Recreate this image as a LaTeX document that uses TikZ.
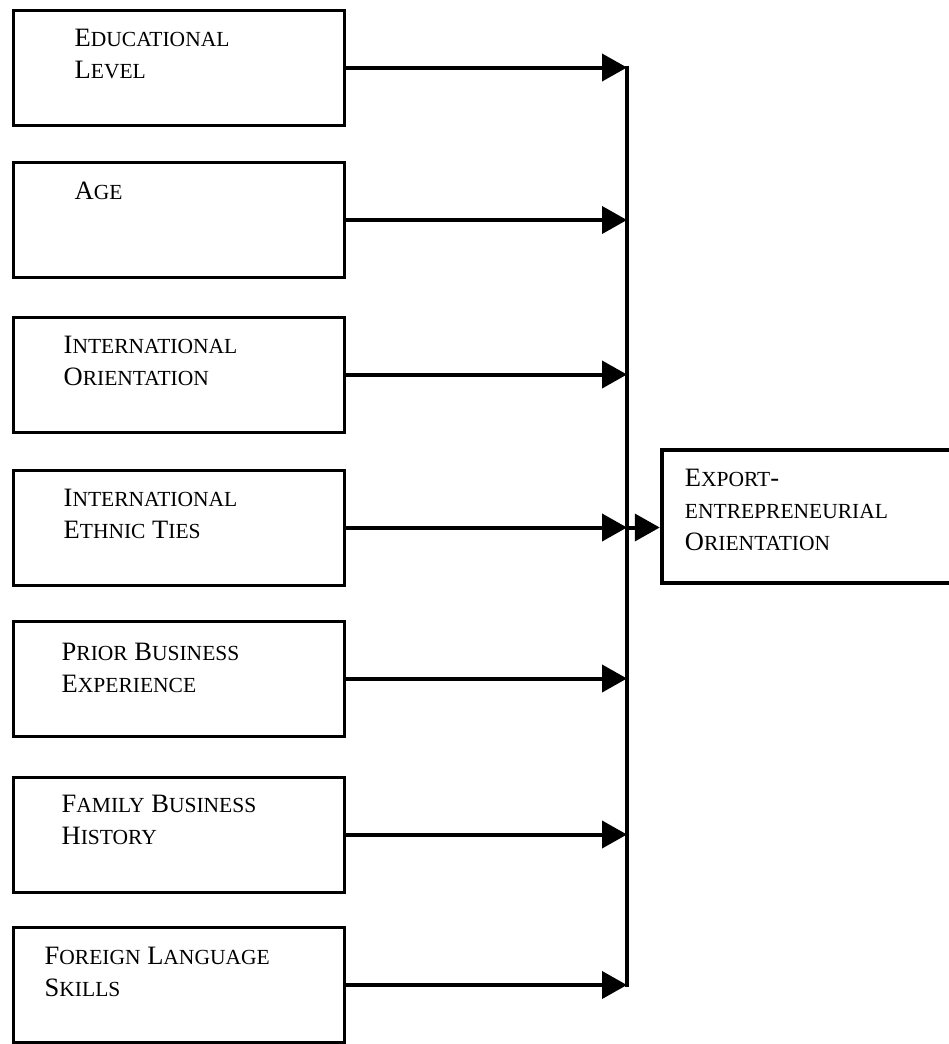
\documentclass[tikz,border=0pt]{standalone}
\usepackage{fontspec}
\setmainfont{Liberation Serif}
\usetikzlibrary{arrows.meta}
% hand-made small capitals: full-size initial, reduced-size rest
\newcommand{\Cap}[1]{{\fontsize{26.5}{32}\selectfont #1}}
\newcommand{\Sml}[1]{{\fontsize{21.5}{32}\selectfont #1}}
\tikzset{
  inbox/.style={draw, line width=3pt, minimum width=331pt, minimum height=115pt, inner sep=0pt},
  outbox/.style={draw, line width=4.5pt, minimum width=290pt, minimum height=133pt, inner sep=0pt},
  lbl/.style={anchor=north west, inner sep=0pt, align=left, font=\fontsize{26.5}{32}\selectfont},
  conn/.style={line width=4pt, -{Triangle[length=25pt, width=27pt]}},
  trunkline/.style={line width=4pt, line cap=rect}
}
\begin{document}
\begin{tikzpicture}[x=1pt, y=-1pt]
\useasboundingbox (0,0) rectangle (948,1044);

% input factors
\node[inbox] (b1) at (178.5, 67.5) {};
\node[inbox] (b2) at (178.5, 220) {};
\node[inbox] (b3) at (178.5, 374.5) {};
\node[inbox] (b4) at (178.5, 527.5) {};
\node[inbox] (b5) at (178.5, 678.5) {};
\node[inbox] (b6) at (178.5, 834.5) {};
\node[inbox] (b7) at (178.5, 985) {};

\node[lbl] (t1) at ([shift={(63,20)}]b1.north west) {\Cap{E}\Sml{DUCATIONAL}\\\Cap{L}\Sml{EVEL}};
\node[lbl] (t2) at ([shift={(63,21)}]b2.north west) {\Cap{A}\Sml{GE}};
\node[lbl] (t3) at ([shift={(52,20)}]b3.north west) {\Cap{I}\Sml{NTERNATIONAL}\\\Cap{O}\Sml{RIENTATION}};
\node[lbl] (t4) at ([shift={(52,20)}]b4.north west) {\Cap{I}\Sml{NTERNATIONAL}\\\Cap{E}\Sml{THNIC} \Cap{T}\Sml{IES}};
\node[lbl] (t5) at ([shift={(50,23)}]b5.north west) {\Cap{P}\Sml{RIOR} \Cap{B}\Sml{USINESS}\\\Cap{E}\Sml{XPERIENCE}};
\node[lbl] (t6) at ([shift={(50,19)}]b6.north west) {\Cap{F}\Sml{AMILY} \Cap{B}\Sml{USINESS}\\\Cap{H}\Sml{ISTORY}};
\node[lbl] (t7) at ([shift={(33,21)}]b7.north west) {\Cap{F}\Sml{OREIGN} \Cap{L}\Sml{ANGUAGE}\\\Cap{S}\Sml{KILLS}};

% outcome
\node[outbox] (out) at (807, 516.5) {};
\node[lbl] (tout) at ([shift={(25,21)}]out.north west) {\Cap{E}\Sml{XPORT}-\\\Sml{ENTREPRENEURIAL}\\\Cap{O}\Sml{RIENTATION}};

% collecting line
\coordinate (tx) at (627, 0);
\draw[trunkline] (b1.east -| tx) -- (b7.east -| tx);

\foreach \b in {b1,b2,b3,b4,b5,b6,b7}
  \draw[conn] (\b.east) -- (\b.east -| tx);

\draw[conn] (b4.east -| tx) -- (b4.east -| out.west);
\end{tikzpicture}
\end{document}
